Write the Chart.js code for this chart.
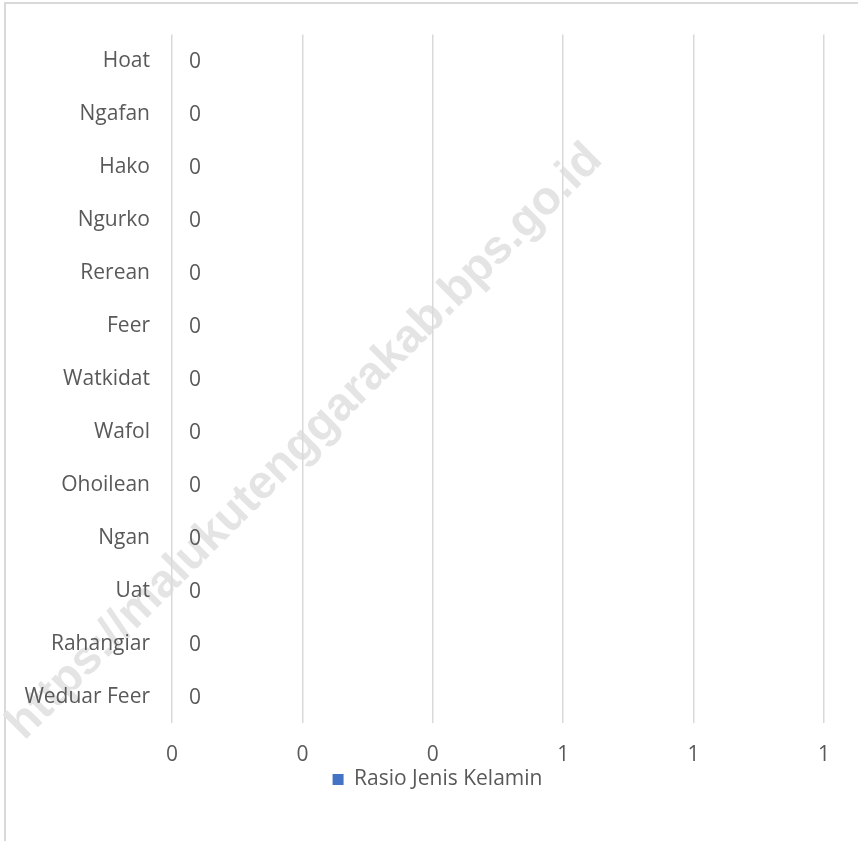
<!DOCTYPE html>
<html>
<head>
<meta charset="utf-8">
<script src="https://cdn.jsdelivr.net/npm/chart.js@4"></script>
<style>
  html, body { margin: 0; padding: 0; background: #fff; }
  #wrap { width: 858px; height: 841px; position: relative; }
</style>
</head>
<body>
<div id="wrap"><canvas id="rasio-chart"></canvas></div>
<script>
// categories top to bottom, as shown
var categories = ["Hoat", "Ngafan", "Hako", "Ngurko", "Rerean", "Feer", "Watkidat",
  "Wafol", "Ohoilean", "Ngan", "Uat", "Rahangiar", "Weduar Feer"];
var rasioValues = [0, 0, 0, 0, 0, 0, 0, 0, 0, 0, 0, 0, 0];
var xTickValues = [0, 0.2, 0.4, 0.6, 0.8, 1];
var xTickLabels = ["0", "0", "0", "1", "1", "1"];
var seriesName = "Rasio Jenis Kelamin";
var watermark = "https://malukutenggarakab.bps.go.id";

var FONT = "'Open Sans', Lato, sans-serif";
var TEXT = "#595959";

// frame + watermark, drawn under everything else
var backdrop = {
  id: "backdrop",
  afterLayout: function (chart) {
    // legend sits a bit right of centre in the original
    chart.legend.left += 23;
    chart.legend.right += 23;
  },
  beforeDraw: function (chart) {
    var ctx = chart.ctx;
    ctx.save();
    ctx.strokeStyle = "#d9d9d9";
    ctx.lineWidth = 2;
    ctx.beginPath();
    ctx.moveTo(5, 860);
    ctx.lineTo(5, 3);
    ctx.lineTo(870, 3);
    ctx.stroke();

    ctx.translate(305, 442);
    ctx.rotate(-45 * Math.PI / 180);
    var size = 40;
    ctx.font = "bold " + size + "px 'Liberation Sans', Arial, sans-serif";
    var w = ctx.measureText(watermark).width;
    size = size * 820 / w;
    ctx.font = "bold " + size + "px 'Liberation Sans', Arial, sans-serif";
    ctx.fillStyle = "#e4e4e4";
    ctx.textAlign = "center";
    ctx.textBaseline = "middle";
    ctx.fillText(watermark, 0, 0);
    ctx.restore();
  }
};

// value labels next to each bar end
var valueLabels = {
  id: "valueLabels",
  afterDatasetsDraw: function (chart) {
    var ctx = chart.ctx;
    var meta = chart.getDatasetMeta(0);
    ctx.save();
    ctx.font = "21px " + FONT;
    ctx.fillStyle = TEXT;
    ctx.textAlign = "left";
    ctx.textBaseline = "middle";
    meta.data.forEach(function (bar, i) {
      ctx.fillText(String(rasioValues[i]), bar.x + 17, bar.y + 1);
    });
    ctx.restore();
  }
};

new Chart(document.getElementById("rasio-chart"), {
  type: "bar",
  data: {
    labels: categories,
    datasets: [{
      label: seriesName,
      data: rasioValues,
      backgroundColor: "#4472c4",
      borderWidth: 0,
      barPercentage: 0.6,
      categoryPercentage: 1
    }]
  },
  options: {
    indexAxis: "y",
    responsive: true,
    maintainAspectRatio: false,
    animation: false,
    layout: { padding: { left: 5, top: 32.5, right: 34, bottom: 41 } },
    plugins: {
      legend: {
        position: "bottom",
        labels: {
          font: { family: FONT, size: 21 },
          color: TEXT,
          boxWidth: 11,
          boxHeight: 11,
          padding: 0
        }
      },
      tooltip: { enabled: false }
    },
    scales: {
      x: {
        min: 0,
        max: 1,
        afterBuildTicks: function (scale) {
          scale.ticks = xTickValues.map(function (v) { return { value: v }; });
        },
        afterFit: function (scale) { scale.height = 46; },
        ticks: {
          callback: function (v, i) { return xTickLabels[i]; },
          font: { family: FONT, size: 21 },
          color: TEXT,
          padding: 19,
          maxRotation: 0
        },
        grid: { color: "#d9d9d9", lineWidth: 1.5, drawTicks: false },
        border: { display: false }
      },
      y: {
        afterFit: function (scale) { scale.width = 167; },
        ticks: {
          font: { family: FONT, size: 21 },
          color: TEXT,
          padding: 22
        },
        grid: { display: false, drawTicks: false },
        border: { display: false }
      }
    }
  },
  plugins: [backdrop, valueLabels]
});
</script>
</body>
</html>
